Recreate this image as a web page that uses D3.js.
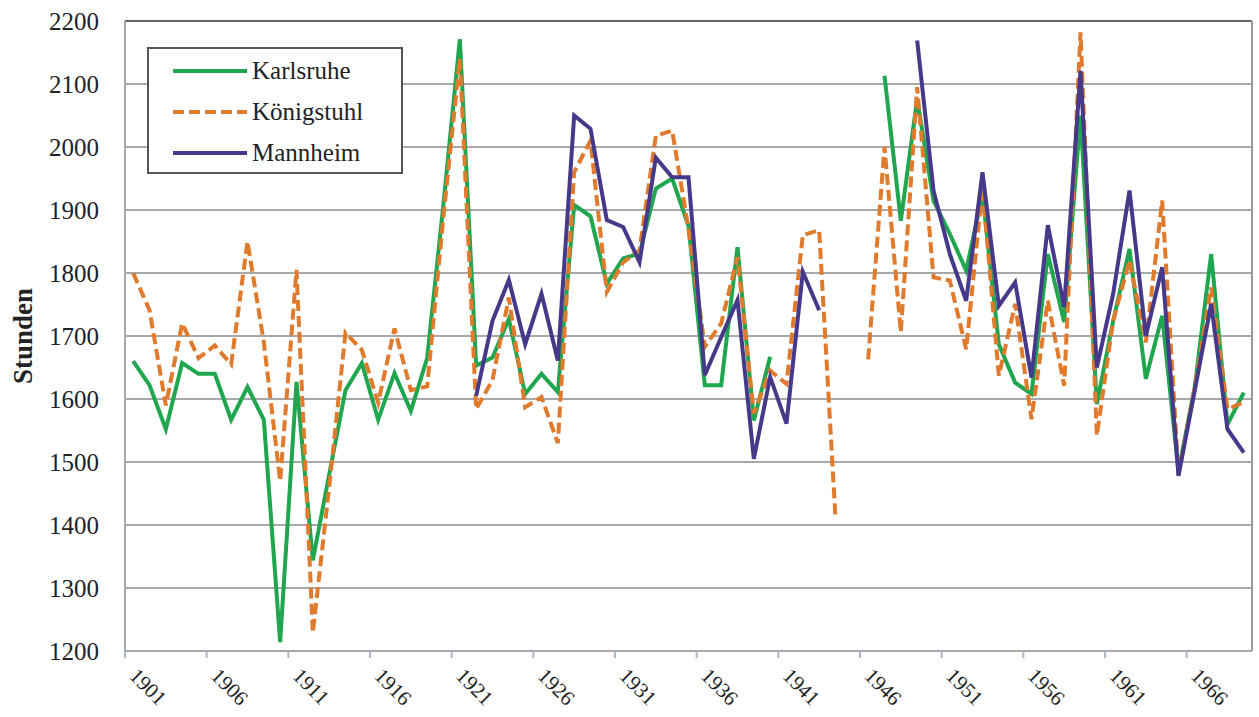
<!DOCTYPE html>
<html>
<head>
<meta charset="utf-8">
<script src="https://cdn.jsdelivr.net/npm/d3@7"></script>
<style>
  body { margin: 0; background: #fff; }
  text { font-family: "Liberation Serif", "Times New Roman", serif; fill: #222; }
</style>
</head>
<body>
<div id="chart"></div>
<script>
// Jahre 1901-1969
var years = d3.range(1901, 1970);

var karlsruhe = [1660, 1622, 1552, 1657, 1640, 1640, 1567, 1619, 1567, 1214,
  1627, 1344, 1480, 1614, 1657, 1567, 1641, 1581, 1665, 1910,
  2171, 1653, 1666, 1727, 1608, 1640, 1611, 1908, 1890, 1783,
  1823, 1831, 1934, 1950, 1875, 1622, 1622, 1841, 1566, 1667,
  null, null, null, null, null, null, 2113, 1883, 2076, 1915,
  1862, 1804, 1925, 1687, 1626, 1608, 1830, 1722, 2050, 1592,
  1724, 1838, 1632, 1732, 1485, 1620, 1830, 1560, 1610];

var koenigstuhl = [1800, 1741, 1590, 1720, 1665, 1685, 1655, 1850, 1690, 1470,
  1805, 1229, 1460, 1705, 1678, 1594, 1712, 1614, 1620, 1890,
  2140, 1584, 1630, 1761, 1587, 1603, 1530, 1960, 2010, 1770,
  1817, 1836, 2018, 2026, 1870, 1683, 1720, 1825, 1577, 1645,
  1624, 1860, 1868, 1411, null, 1663, 2000, 1706, 2095, 1793,
  1788, 1679, 1936, 1637, 1751, 1568, 1756, 1621, 2182, 1542,
  1724, 1820, 1690, 1915, 1480, 1620, 1777, 1584, 1595];

var mannheim = [null, null, null, null, null, null, null, null, null, null,
  null, null, null, null, null, null, null, null, null, null,
  null, 1605, 1724, 1789, 1687, 1767, 1661, 2050, 2029, 1884,
  1873, 1817, 1983, 1952, 1952, 1638, 1698, 1757, 1505, 1635,
  1561, 1802, 1741, null, null, null, null, null, 2169, 1931,
  1830, 1756, 1960, 1748, 1785, 1634, 1876, 1746, 2121, 1650,
  1767, 1931, 1700, 1809, 1478, 1614, 1751, 1552, 1515];

var yTicks = d3.range(1200, 2201, 100);
var xLabels = years.filter(function (d) { return (d - 1901) % 5 === 0; });

var series = [
  {name: 'Karlsruhe', values: karlsruhe, color: '#1fa64f', dash: null},
  {name: 'Königstuhl', values: koenigstuhl, color: '#e07a2c', dash: '11,5'},
  {name: 'Mannheim', values: mannheim, color: '#46398a', dash: null}
];

var width = 1259;
var height = 717;
var plot = {left: 125, right: 1252, top: 21, bottom: 651};

var svg = d3.select('#chart')
  .append('svg')
  .attr('width', width)
  .attr('height', height);

var xScale = d3.scaleBand()
  .domain(years)
  .range([plot.left, plot.right]);
var yScale = d3.scaleLinear()
  .domain([1200, 2200])
  .range([plot.bottom, plot.top]);

// Gitterlinien
svg.append('g')
  .selectAll('line')
  .data(yTicks)
  .enter()
  .append('line')
  .attr('x1', plot.left)
  .attr('x2', plot.right)
  .attr('y1', function (d) { return yScale(d); })
  .attr('y2', function (d) { return yScale(d); })
  .attr('stroke', function (d) { return d === 2200 ? '#666' : '#a8a8a8'; })
  .attr('stroke-width', 2);

// Rahmen links/rechts
svg.append('line')
  .attr('x1', plot.left).attr('x2', plot.left)
  .attr('y1', plot.top).attr('y2', plot.bottom + 6)
  .attr('stroke', '#a8a8a8').attr('stroke-width', 2);
svg.append('line')
  .attr('x1', plot.right).attr('x2', plot.right)
  .attr('y1', plot.top).attr('y2', plot.bottom)
  .attr('stroke', '#999').attr('stroke-width', 2);

// y-Achse
var yAxis = d3.axisLeft(yScale)
  .tickValues(yTicks)
  .tickSize(0)
  .tickPadding(26)
  .tickFormat(d3.format('d'));
svg.append('g')
  .attr('transform', 'translate(' + plot.left + ',0)')
  .call(yAxis)
  .call(function (g) { g.select('.domain').remove(); })
  .selectAll('text')
  .attr('font-size', '25px')
  .style('font-family', '"Liberation Serif", serif')
  .attr('fill', '#1a1a1a');

// x-Achse: Teilstriche zwischen den Kategorien
svg.append('g')
  .selectAll('line')
  .data(xLabels)
  .enter()
  .append('line')
  .attr('x1', function (d) { return xScale(d); })
  .attr('x2', function (d) { return xScale(d); })
  .attr('y1', plot.bottom)
  .attr('y2', plot.bottom + 7)
  .attr('stroke', '#a8b8c8')
  .attr('stroke-width', 2);

svg.append('g')
  .selectAll('text')
  .data(xLabels)
  .enter()
  .append('text')
  .attr('transform', function (d) {
    return 'translate(' + (xScale(d) + xScale.bandwidth() / 2 - 5) + ',' + (plot.bottom + 26) + ') rotate(45)';
  })
  .attr('font-size', '21px')
  .attr('text-anchor', 'start')
  .attr('fill', '#1a1a1a')
  .text(function (d) { return d; });

svg.append('text')
  .attr('transform', 'translate(32,' + ((plot.top + plot.bottom) / 2) + ') rotate(-90)')
  .attr('text-anchor', 'middle')
  .attr('font-size', '27px')
  .attr('font-weight', 'bold')
  .attr('fill', '#111')
  .text('Stunden');

// Linien
var line = d3.line()
  .defined(function (d) { return d[1] != null; })
  .x(function (d) { return xScale(d[0]) + xScale.bandwidth() / 2; })
  .y(function (d) { return yScale(d[1]); });

series.forEach(function (s) {
  var data = years.map(function (y, i) { return [y, s.values[i]]; });
  svg.append('path')
    .attr('d', line(data))
    .attr('fill', 'none')
    .attr('stroke', s.color)
    .attr('stroke-width', 4)
    .attr('stroke-linejoin', 'miter')
    .attr('stroke-dasharray', s.dash);
});

// Legende
var legend = svg.append('g').attr('transform', 'translate(148,48)');
legend.append('rect')
  .attr('width', 254)
  .attr('height', 125)
  .attr('fill', '#fff')
  .attr('stroke', '#555')
  .attr('stroke-width', 2);
var item = legend.selectAll('g')
  .data(series)
  .enter()
  .append('g')
  .attr('transform', function (d, i) { return 'translate(0,' + (23 + i * 41) + ')'; });
item.append('line')
  .attr('x1', 25).attr('x2', 99)
  .attr('y1', 0).attr('y2', 0)
  .attr('stroke', function (d) { return d.color; })
  .attr('stroke-width', 4)
  .attr('stroke-dasharray', function (d) { return d.dash; });
item.append('text')
  .attr('x', 104)
  .attr('y', 8)
  .attr('font-size', '25px')
  .attr('fill', '#1a1a1a')
  .text(function (d) { return d.name; });
</script>
</body>
</html>
